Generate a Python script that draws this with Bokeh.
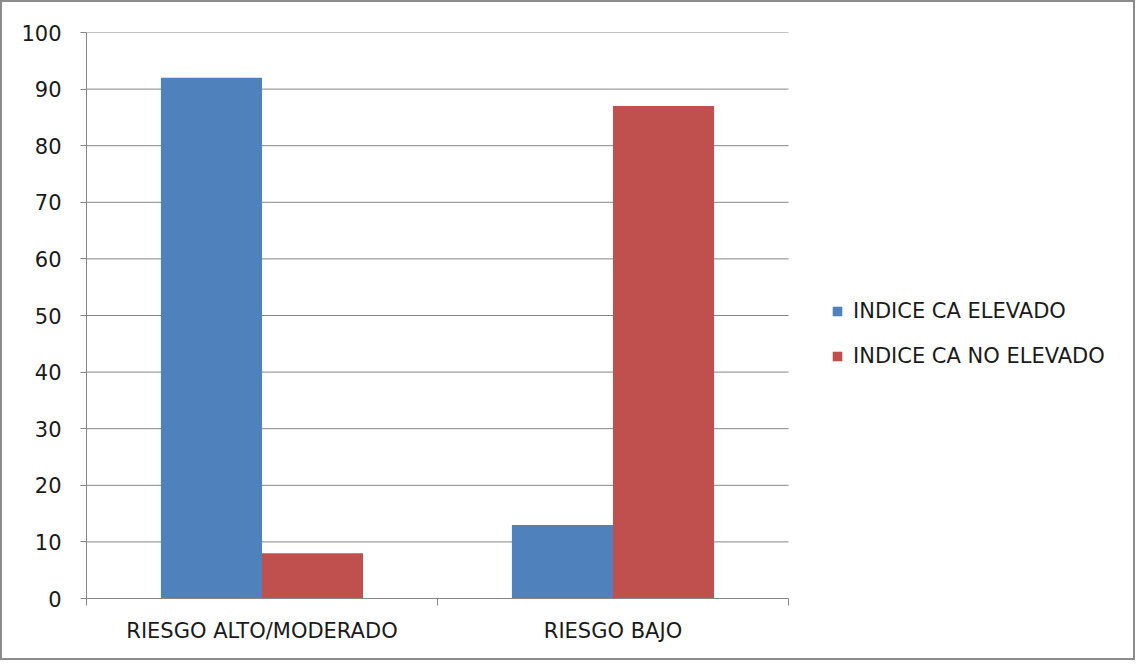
from bokeh.plotting import figure
from bokeh.models import Range1d, FixedTicker, Legend, LegendItem
from bokeh.embed import file_html
from bokeh.resources import INLINE

# Data
categories = ["RIESGO ALTO/MODERADO", "RIESGO BAJO"]
series_names = ["INDICE CA ELEVADO", "INDICE CA NO ELEVADO"]
elevado = [92, 13]
no_elevado = [8, 87]
y_ticks = [0, 10, 20, 30, 40, 50, 60, 70, 80, 90, 100]

colors = ["#4f81bd", "#c0504d"]
grey = "#868686"
text_color = "#1a1a1a"
font = "DejaVu Sans"
font_size = "21px"

# Layout: the bar area is 702 px wide; the frame continues to the right
# so that the legend sits inside it without being clipped.
canvas_w, canvas_h = 1135, 660
left_pad, right_pad = 84, 5
bars_px = 702
frame_px = canvas_w - left_pad - right_pad
n = len(categories)
x_end = n * frame_px / bars_px

bar_w = 0.288
centers = [i + 0.5 for i in range(n)]

p = figure(
    width=canvas_w, height=canvas_h,
    x_range=Range1d(0, x_end), y_range=Range1d(0, 100),
    output_backend="svg", toolbar_location=None,
    min_border_left=left_pad, min_border_top=30, min_border_bottom=64,
    min_border_right=right_pad,
)
p.styles = {"border": "2px solid #8c8c8c"}
p.outline_line_color = None
p.background_fill_color = "white"
p.border_fill_color = "white"

# horizontal grid lines, limited to the category area
p.ygrid.grid_line_color = None
p.xgrid.grid_line_color = None
p.segment(x0=[0] * len(y_ticks), x1=[n] * len(y_ticks), y0=y_ticks, y1=y_ticks,
          line_color=grey, line_width=1)

r1 = p.vbar(x=[c - bar_w / 2 for c in centers], top=elevado, width=bar_w,
            fill_color=colors[0], line_color=None)
r2 = p.vbar(x=[c + bar_w / 2 for c in centers], top=no_elevado, width=bar_w,
            fill_color=colors[1], line_color=None)

# x axis: labels at category centres, ticks at category boundaries
p.xaxis.bounds = (0, n)
p.xaxis.ticker = FixedTicker(ticks=centers, minor_ticks=list(range(n + 1)))
p.xaxis.major_label_overrides = {c: lab for c, lab in zip(centers, categories)}
p.xaxis.major_tick_out = 0
p.xaxis.major_tick_in = 0
p.xaxis.minor_tick_out = 7
p.xaxis.minor_tick_in = 0
p.xaxis.minor_tick_line_color = grey
p.xaxis.axis_line_color = grey
p.xaxis.major_label_standoff = 13

p.yaxis.ticker = FixedTicker(ticks=y_ticks)
p.yaxis.major_tick_out = 6
p.yaxis.major_tick_in = 0
p.yaxis.minor_tick_line_color = None
p.yaxis.major_tick_line_color = grey
p.yaxis.axis_line_color = grey
p.yaxis.major_label_standoff = 19

for ax in (p.xaxis, p.yaxis):
    ax.major_label_text_font = font
    ax.major_label_text_font_size = font_size
    ax.major_label_text_color = text_color

legend = Legend(
    items=[LegendItem(label=series_names[0], renderers=[r1]),
           LegendItem(label=series_names[1], renderers=[r2])],
    location=(745, 230), orientation="vertical",
    glyph_width=12, glyph_height=12, label_standoff=10, spacing=21,
    padding=0, margin=0,
    label_text_font=font, label_text_font_size=font_size, label_text_color=text_color,
    border_line_color=None, background_fill_alpha=0,
)
p.add_layout(legend)

open("out.html", "w").write(file_html(p, INLINE))
